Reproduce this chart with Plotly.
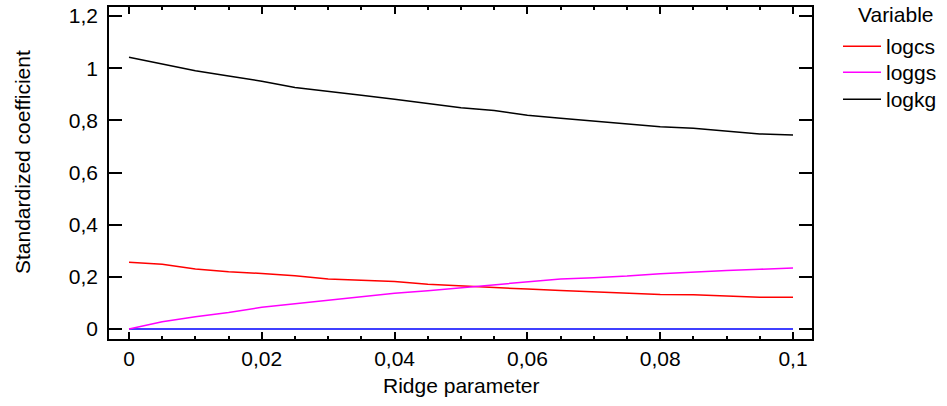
import plotly.graph_objects as go

ridge = [0.0, 0.005, 0.01, 0.015, 0.02, 0.025, 0.03, 0.035, 0.04, 0.045, 0.05,
         0.055, 0.06, 0.065, 0.07, 0.075, 0.08, 0.085, 0.09, 0.095, 0.1]
logcs = [0.256, 0.248, 0.230, 0.220, 0.213, 0.204, 0.192, 0.188, 0.182, 0.172, 0.165,
         0.160, 0.153, 0.148, 0.143, 0.138, 0.132, 0.131, 0.127, 0.122, 0.122]
loggs = [0.000, 0.028, 0.047, 0.063, 0.083, 0.097, 0.109, 0.125, 0.137, 0.147, 0.158,
         0.170, 0.181, 0.192, 0.197, 0.203, 0.212, 0.219, 0.224, 0.229, 0.234]
logkg = [1.042, 1.016, 0.990, 0.970, 0.950, 0.926, 0.912, 0.896, 0.881, 0.865, 0.848,
         0.838, 0.820, 0.808, 0.797, 0.786, 0.776, 0.770, 0.758, 0.748, 0.744]
zero_line = [0.0] * len(ridge)

x_ticks = [0, 0.02, 0.04, 0.06, 0.08, 0.1]
x_ticktext = ["0", "0,02", "0,04", "0,06", "0,08", "0,1"]
y_ticks = [0, 0.2, 0.4, 0.6, 0.8, 1.0, 1.2]
y_ticktext = ["0", "0,2", "0,4", "0,6", "0,8", "1", "1,2"]

FONT = "Liberation Sans, Arial, sans-serif"
FS = 21

fig = go.Figure()
fig.add_trace(go.Scatter(x=ridge, y=zero_line, mode="lines",
                         line=dict(color="#0000FF", width=1.5), showlegend=False))
fig.add_trace(go.Scatter(x=ridge, y=logcs, mode="lines", name="logcs", legend="legend",
                         line=dict(color="#FF0000", width=1.5)))
fig.add_trace(go.Scatter(x=ridge, y=loggs, mode="lines", name="loggs", legend="legend2",
                         line=dict(color="#FF00FF", width=1.5)))
fig.add_trace(go.Scatter(x=ridge, y=logkg, mode="lines", name="logkg", legend="legend3",
                         line=dict(color="#000000", width=1.5)))


def leg(top):
    return dict(x=838 / 947, y=1 - top / 406, xref="container", yref="container",
                xanchor="left", yanchor="top", font=dict(size=FS), itemwidth=38,
                bgcolor="rgba(0,0,0,0)")


fig.update_layout(
    width=947, height=406,
    margin=dict(l=109, r=135, t=7, b=67, autoexpand=False),
    paper_bgcolor="white", plot_bgcolor="white",
    font=dict(family=FONT, size=FS, color="black"),
    legend=leg(26), legend2=leg(52), legend3=leg(79),
    annotations=[
        dict(text="Variable", x=1.120, y=0.976, xref="paper", yref="paper",
             xanchor="center", yanchor="middle", showarrow=False, font=dict(size=FS)),
        dict(text="Ridge parameter", x=0.5, y=-0.1386, xref="paper", yref="paper",
             xanchor="center", yanchor="middle", showarrow=False, font=dict(size=FS)),
        dict(text="Standardized coefficient", x=-0.1238, y=0.533, xref="paper", yref="paper",
             xanchor="center", yanchor="middle", textangle=-90, showarrow=False,
             font=dict(size=FS)),
    ],
)
fig.update_xaxes(
    range=[-0.00301, 0.10286], showgrid=False, zeroline=False, automargin=False,
    showline=True, linecolor="black", linewidth=1.5, mirror="ticks",
    ticks="inside", ticklen=7, tickwidth=1.5, tickcolor="black",
    tickvals=x_ticks, ticktext=x_ticktext, ticklabelstandoff=0,
    minor=dict(ticks="inside", ticklen=3, tickwidth=1.5, tickcolor="black",
               dtick=0.005, tick0=0, showgrid=False),
)
fig.update_yaxes(
    range=[-0.0383, 1.2347], showgrid=False, zeroline=False, automargin=False,
    showline=True, linecolor="black", linewidth=1.5, mirror="ticks",
    ticks="inside", ticklen=13, tickwidth=1.5, tickcolor="black",
    tickvals=y_ticks, ticktext=y_ticktext, ticklabelstandoff=5,
)

fig.write_html("out.html", config={"displayModeBar": False},
               post_script="document.body.style.margin='0';")
